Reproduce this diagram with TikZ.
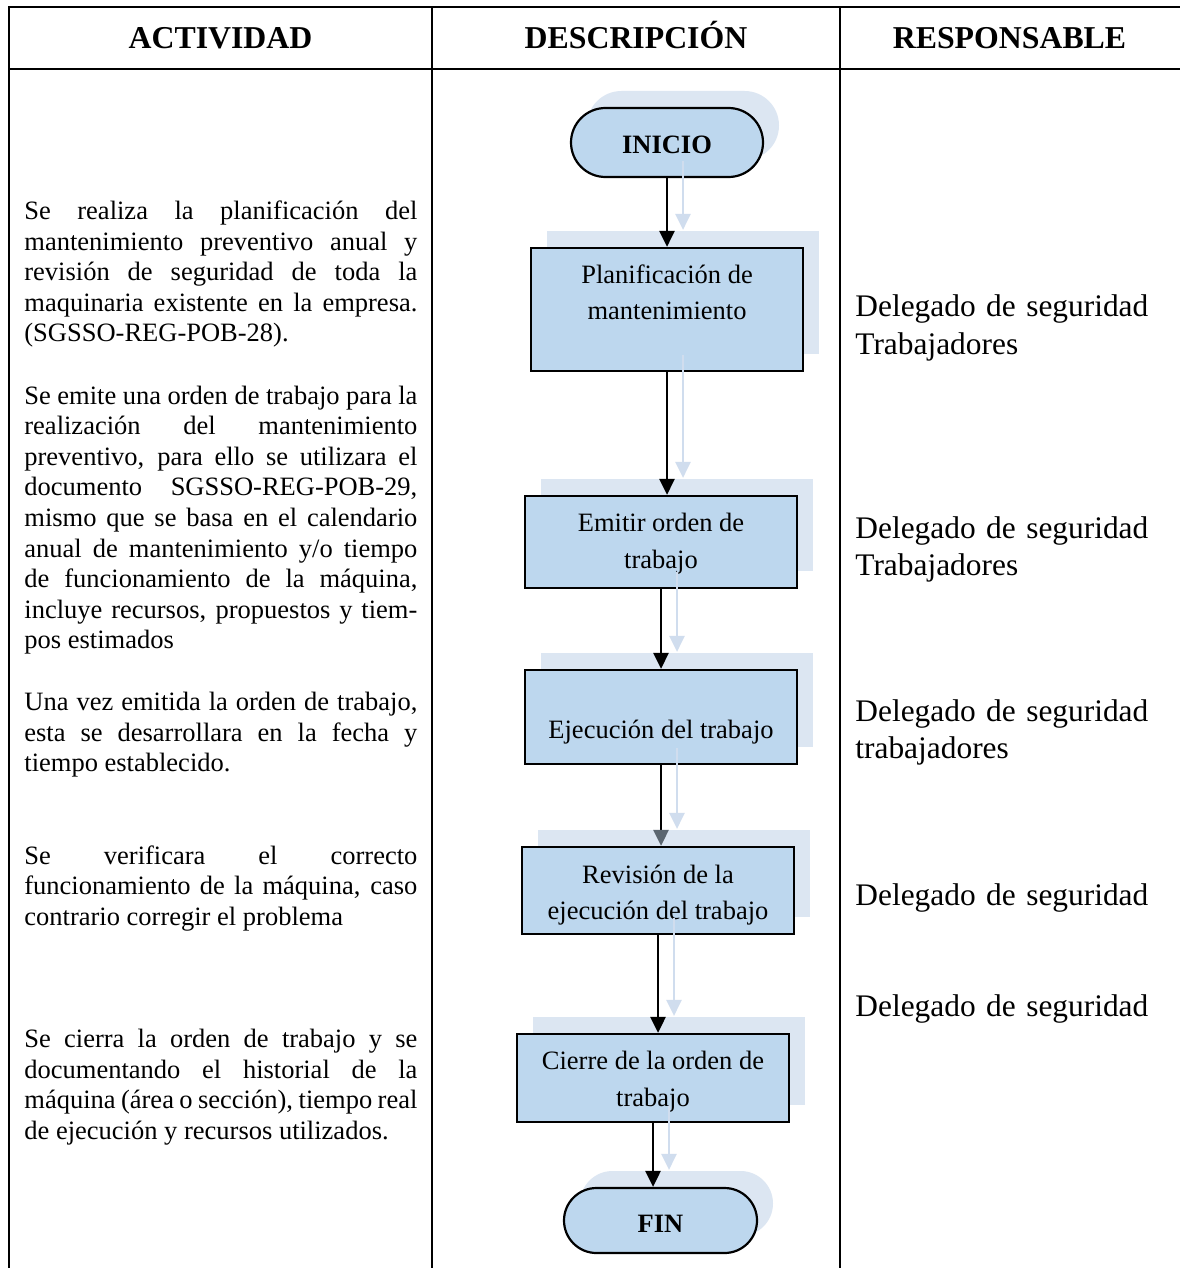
\documentclass[tikz,border=0pt]{standalone}
\usepackage{fontspec}
\setmainfont{Liberation Serif}
\usetikzlibrary{arrows.meta,shapes.misc,shadows,calc}
\definecolor{boxblue}{HTML}{BDD7EE}
\definecolor{shadowblue}{HTML}{DCE6F2}
\definecolor{shadowline}{HTML}{D0DDEE}
\definecolor{tipgrey}{HTML}{5B6670}
\begin{document}
\begin{tikzpicture}[x=0.5pt,y=-0.5pt,
  tline/.style={line width=1pt, line cap=rect},
  flowbox/.style={draw, line width=1.1pt, fill=boxblue,
    general shadow={draw=none, fill=shadowblue, shadow xshift=8pt, shadow yshift=8.5pt}},
  procbox/.style={flowbox, rectangle, minimum width=136pt, inner sep=0pt},
  termbox/.style={flowbox, rounded rectangle, inner sep=0pt,
    font=\fontsize{13.25}{15}\selectfont\bfseries},
  boxtext/.style={font=\fontsize{13.25}{18.25}\selectfont, align=center, inner sep=0pt},
  flow/.style={line width=1.4pt, -{Triangle[length=8pt,width=7.5pt]}},
  shadowflow/.style={line width=1.3pt, shadowline, -{Triangle[length=8pt,width=7.5pt]}},
  head/.style={anchor=base, inner sep=0pt, font=\fontsize{15.9}{18}\selectfont\bfseries},
  actividad/.style={anchor=north west, inner sep=0pt, text width=196.5pt, align=justify,
    font=\fontsize{13.25}{15.3}\selectfont},
  resp/.style={anchor=north west, inner sep=0pt, text width=170pt, align=left,
    font=\fontsize{15.7}{18.7}\selectfont}
]
\useasboundingbox (0,0) rectangle (1179,1268);
\fill[white] (0,0) rectangle (1179,1268);

% table grid
\draw[tline] (9,7) -- (1179,7);
\draw[tline] (9,69) -- (1179,69);
\draw[tline] (9,7) -- (9,1268);
\draw[tline] (432,7) -- (432,1268);
\draw[tline] (840,7) -- (840,1268);

% headers
\node[head] (hact) at (220.5,49) {ACTIVIDAD};
\node[head] (hdes) at (636,49) {DESCRIPCIÓN};
\node[head] (hres) at (1009.5,49) {RESPONSABLE};

% flow nodes
\node[termbox, minimum width=96pt, minimum height=34.5pt] (ini) at (667,142.5) {\raisebox{-1.3pt}[\height][\depth]{INICIO}};
\node[procbox, minimum height=61.5pt,
  label={[name=plant, boxtext, yshift=8.5pt]center:Planificación de\\mantenimiento}] (plan) at (667,309.5) {};
\node[procbox, minimum height=46pt,
  label={[name=emitt, boxtext, yshift=-0.8pt]center:Emitir orden de\\trabajo}] (emit) at (661,542) {};
\node[procbox, minimum height=47pt,
  label={[name=eject, boxtext, yshift=-7.5pt]center:Ejecución del trabajo}] (ejec) at (661,717) {};
\node[procbox, minimum height=43.5pt,
  label={[name=revt, boxtext, yshift=-2.2pt]center:Revisión de la\\ejecución del trabajo}] (rev) at (658,890.5) {};
\node[procbox, minimum height=44pt,
  label={[name=ciet, boxtext, yshift=-1.8pt]center:Cierre de la orden de\\trabajo}] (cie) at (653,1078) {};
\node[termbox, minimum width=96.5pt, minimum height=32.5pt] (fin) at (660.5,1220.5) {\raisebox{-1.8pt}[\height][\depth]{FIN}};

% shadow connectors
\draw[shadowflow] ($(ini.south)+(16,-17)$) -- ($(ini.south |- plan.north)+(16,-17)$);
\draw[shadowflow] ($(plan.south)+(16,-17)$) -- ($(plan.south |- emit.north)+(16,-17)$);
\draw[shadowflow] ($(emit.south)+(16,-17)$) -- ($(emit.south |- ejec.north)+(16,-17)$);
\draw[shadowflow] ($(ejec.south)+(16,-17)$) -- ($(ejec.south |- rev.north)+(16,-17)$);
\draw[shadowflow] ($(rev.south)+(16,-17)$) -- ($(rev.south |- cie.north)+(16,-17)$);
\draw[shadowflow] ($(cie.south)+(16,-17)$) -- ($(cie.south |- fin.north)+(16,-17)$);

% connectors
\draw[flow] (ini.south) -- (ini.south |- plan.north);
\draw[flow] (plan.south) -- (plan.south |- emit.north);
\draw[flow] (emit.south) -- (emit.south |- ejec.north);
\draw[line width=1.4pt, -{Triangle[length=8pt,width=7.5pt,color=tipgrey]}] (ejec.south) -- (ejec.south |- rev.north);
\draw[flow] (rev.south) -- (rev.south |- cie.north);
\draw[flow] (cie.south) -- (cie.south |- fin.north);

% activity texts
\node[actividad] (a1) at (24,197.6) {\tolerance=10000\hyphenpenalty=10000\exhyphenpenalty=10000\noindent\strut Se realiza la planificación del\linebreak mantenimiento preventivo anual y\linebreak revisión de seguridad de toda la\linebreak maquinaria existente en la empresa.\linebreak (SGSSO-REG-POB-28).};
\node[actividad] (a2) at (24,382.3) {\tolerance=10000\hyphenpenalty=10000\exhyphenpenalty=10000\noindent\strut Se emite una orden de trabajo para la\linebreak realización del mantenimiento\linebreak preventivo, para ello se utilizara el\linebreak documento SGSSO-REG-POB-29,\linebreak mismo que se basa en el calendario\linebreak anual de mantenimiento y/o tiempo\linebreak de funcionamiento de la máquina,\linebreak incluye recursos, propuestos y tiem-\linebreak pos estimados};
\node[actividad] (a3) at (24,688.9) {\tolerance=10000\hyphenpenalty=10000\exhyphenpenalty=10000\noindent\strut Una vez emitida la orden de trabajo,\linebreak esta se desarrollara en la fecha y\linebreak tiempo establecido.};
\node[actividad] (a4) at (24,842.3) {\tolerance=10000\hyphenpenalty=10000\exhyphenpenalty=10000\noindent\strut Se verificara el correcto\linebreak funcionamiento de la máquina, caso\linebreak contrario corregir el problema};
\node[actividad] (a5) at (24,1025.6) {\tolerance=10000\hyphenpenalty=10000\exhyphenpenalty=10000\noindent\strut Se cierra la orden de trabajo y se\linebreak documentando el historial de la\linebreak máquina (área o sección), tiempo real\linebreak de ejecución y recursos utilizados.};

% responsible texts
\node[resp] (r1) at (855,290.1) {\strut Delegado de seguridad\\Trabajadores};
\node[resp] (r2) at (855,511.8) {\strut Delegado de seguridad\\Trabajadores};
\node[resp] (r3) at (855,694.8) {\strut Delegado de seguridad\\trabajadores};
\node[resp] (r4) at (855,878.5) {\strut Delegado de seguridad};
\node[resp] (r5) at (855,989.8) {\strut Delegado de seguridad};
\end{tikzpicture}
\end{document}
